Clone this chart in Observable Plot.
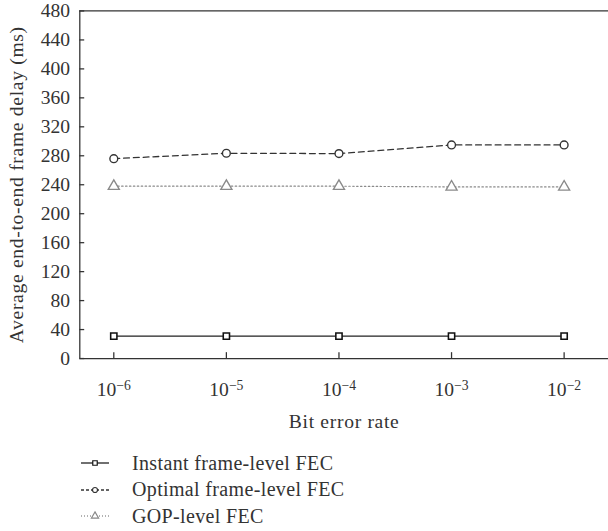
<!DOCTYPE html>
<html><head><meta charset="utf-8">
<script src="https://cdn.jsdelivr.net/npm/d3@7"></script>
<script src="https://cdn.jsdelivr.net/npm/@observablehq/plot@0.6"></script>
<style>
html,body{margin:0;padding:0;background:#fff;overflow:hidden;}
#chart{width:608px;overflow:hidden;}
#chart svg{display:block;}
#chart svg text{font-family:"Liberation Serif",serif !important;font-size:20px !important;fill:#333;}
#chart svg g[aria-label$="-axis label"] text{letter-spacing:0.7px;}
.legend{font-family:"Liberation Serif",serif;font-size:20px;color:#333;padding-top:19px;letter-spacing:0.35px;}
.row{display:flex;align-items:center;height:26.5px;white-space:nowrap;}
.row svg{margin-left:81px;margin-right:23px;display:block;}
</style></head><body><div id="chart"></div><div class="legend" id="legend"></div>
<script>
// Data
const berValues = [1e-6, 1e-5, 1e-4, 1e-3, 1e-2];
const instantFEC = [31, 31, 31, 31, 31];
const optimalFEC = [276, 283.5, 283, 295, 295];
const gopFEC = [238, 238, 238, 237, 237];
const seriesNames = ["Instant frame-level FEC", "Optimal frame-level FEC", "GOP-level FEC"];
const yTicks = [0, 40, 80, 120, 160, 200, 240, 280, 320, 360, 400, 440, 480];
const xLabel = "Bit error rate";
const yLabel = "Average end-to-end frame delay (ms)";

const toRows = (vals, name) => berValues.map((b, i) => ({ber: b, delay: vals[i], series: name}));
const inst = toRows(instantFEC, seriesNames[0]);
const opt = toRows(optimalFEC, seriesNames[1]);
const gop = toRows(gopFEC, seriesNames[2]);

const xDomain = [Math.pow(10, -6.302), Math.pow(10, -1.606)];
const axisColor = "#333";
const serif = '"Liberation Serif", serif';

const plot = Plot.plot({
  width: 621,
  height: 440,
  marginLeft: 81,
  marginRight: 0,
  marginTop: 10.7,
  marginBottom: 74.3,
  style: {fontFamily: serif, fontSize: "20px", color: "#333", background: "white"},
  x: {type: "log", domain: xDomain},
  y: {domain: [0, 480]},
  marks: [
    Plot.ruleY([0], {stroke: axisColor, strokeWidth: 1.3}),
    Plot.ruleY([480], {stroke: axisColor, strokeWidth: 1.3}),
    Plot.ruleX([xDomain[0]], {stroke: axisColor, strokeWidth: 1.3}),
    Plot.axisY({ticks: yTicks, tickSize: -5, tickPadding: 15, tickFormat: d => String(d),
      fontFamily: serif, fontSize: 20, labelArrow: "none",
      label: yLabel, labelAnchor: "center", labelOffset: 72, stroke: axisColor, strokeWidth: 1.3}),
    Plot.axisX({ticks: berValues, tickSize: -6, tickPadding: 30,
      fontFamily: serif, fontSize: 20, labelArrow: "none",
      tickFormat: d => "10^" + Math.round(Math.log10(d)),
      label: xLabel, labelAnchor: "center", labelOffset: 71, stroke: axisColor, strokeWidth: 1.3}),
    Plot.line(gop, {x: "ber", y: "delay", stroke: "#8a8a8a", strokeWidth: 1.2, strokeDasharray: "1.5,2.5"}),
    Plot.line(opt, {x: "ber", y: "delay", stroke: "#333", strokeWidth: 1.3, strokeDasharray: "6,4"}),
    Plot.line(inst, {x: "ber", y: "delay", stroke: "#222", strokeWidth: 1.4}),
    Plot.dot(gop, {x: "ber", y: "delay", symbol: "triangle", r: 4.2, fill: "white", stroke: "#8a8a8a", strokeWidth: 1.4}),
    Plot.dot(opt, {x: "ber", y: "delay", symbol: "circle", r: 4, fill: "white", stroke: "#333", strokeWidth: 1.4}),
    Plot.dot(inst, {x: "ber", y: "delay", symbol: "square", r: 3.6, fill: "white", stroke: "#111", strokeWidth: 1.6})
  ]
});
document.getElementById("chart").appendChild(plot);

// strip any label arrows, in case this Plot version adds them
d3.select(plot).selectAll('g[aria-label$="-axis label"] text').each(function() {
  const t = d3.select(this);
  t.text(t.text().replace(/\s*[\u2191\u2192\u2190\u2193]\s*/g, "").trim());
});

// superscript exponents on x tick labels
d3.select(plot).selectAll('g[aria-label="x-axis tick label"] text').each(function() {
  const t = d3.select(this);
  const s = t.text();
  const parts = s.split("^");
  if (parts.length !== 2) return;
  t.text(null);
  t.append("tspan").text(parts[0]);
  t.append("tspan").attr("dy", "-0.42em").style("font-size", "14px").text(parts[1].replace("-", "\u2212"));
});

// legend
const legendSpecs = [
  {name: seriesNames[0], stroke: "#222", dash: null, symbol: "square", mstroke: "#111"},
  {name: seriesNames[1], stroke: "#333", dash: "3,2", symbol: "circle", mstroke: "#333"},
  {name: seriesNames[2], stroke: "#999", dash: "1,2", symbol: "triangle", mstroke: "#888"}
];
const legend = d3.select("#legend");
legendSpecs.forEach(s => {
  const row = legend.append("div").attr("class", "row");
  const svg = row.append("svg").attr("width", 28).attr("height", 14);
  svg.append("line").attr("x1", 0).attr("x2", 28).attr("y1", 7).attr("y2", 7)
    .attr("stroke", s.stroke).attr("stroke-width", 1.3).attr("stroke-dasharray", s.dash);
  const sym = {square: d3.symbolSquare, circle: d3.symbolCircle, triangle: d3.symbolTriangle}[s.symbol];
  svg.append("path").attr("transform", "translate(14,7)")
    .attr("d", d3.symbol(sym, s.symbol === "triangle" ? 22 : 20)())
    .attr("fill", "white").attr("stroke", s.mstroke).attr("stroke-width", 1.2);
  row.append("span").text(s.name);
});
</script>
</body></html>
